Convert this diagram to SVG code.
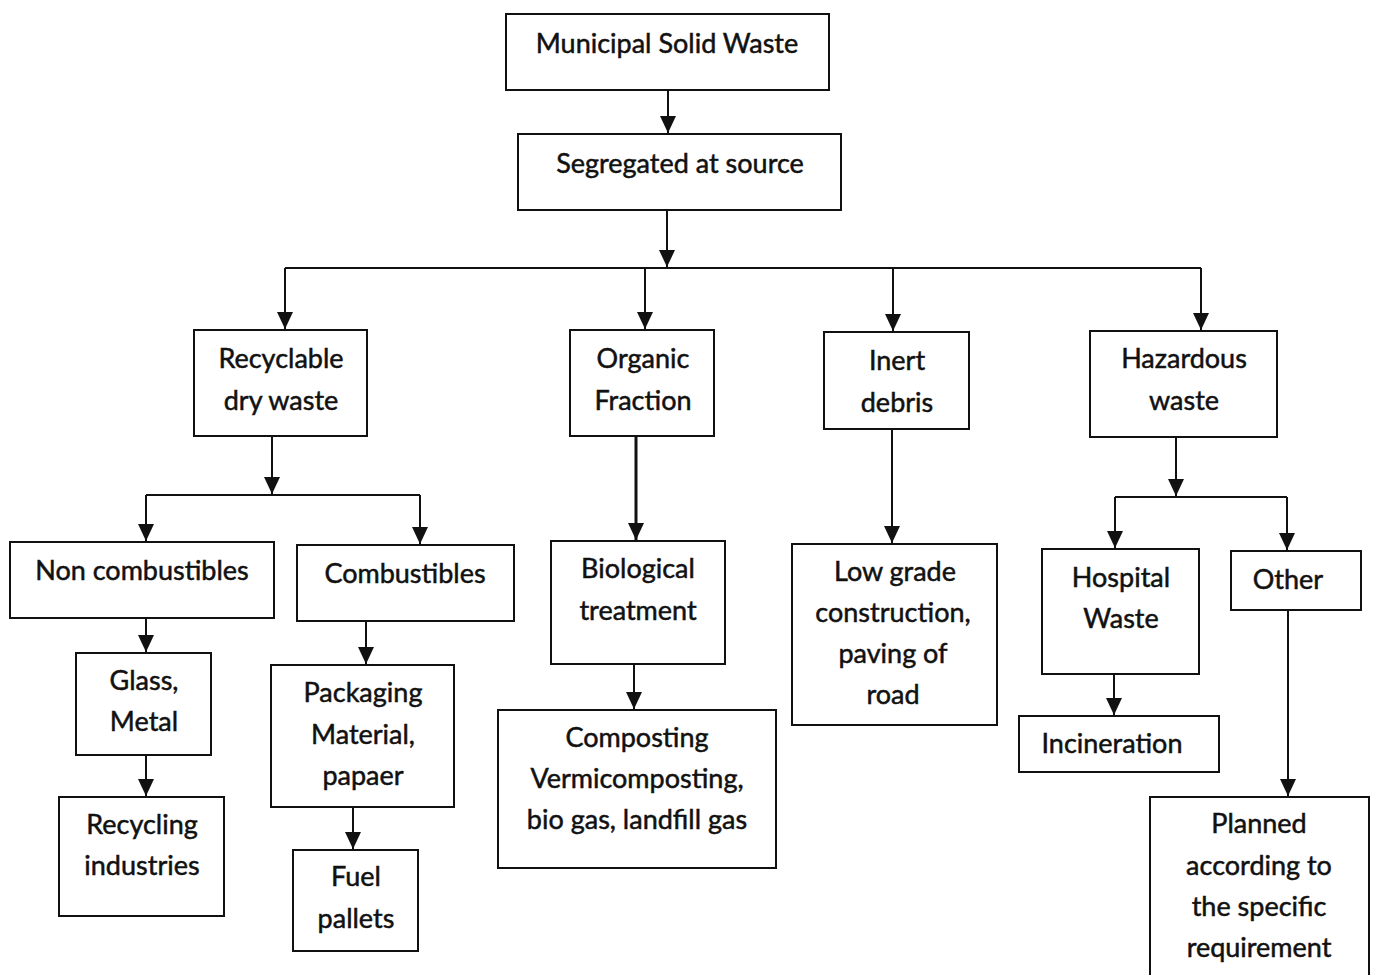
<svg xmlns="http://www.w3.org/2000/svg" width="1373" height="975" viewBox="0 0 1373 975">
<style>
.box{fill:#fff;stroke:#111;stroke-width:2}
text{font-family:Lato,"Liberation Sans",sans-serif;font-size:27px;fill:#111;stroke:#111;stroke-width:0.5;text-anchor:middle}
.c line{stroke:#111;stroke-width:2;fill:none}
</style>
<defs>
<marker id="a" markerUnits="userSpaceOnUse" markerWidth="18" markerHeight="16" refX="17" refY="8" orient="auto" viewBox="0 0 18 16">
<path d="M0,0 L17,8 L0,16 Z" fill="#111"/>
</marker>
</defs>
<rect width="1373" height="975" fill="#fff"/>
<g class="c" id="connectors">
<line x1="668" y1="90" x2="668" y2="133" marker-end="url(#a)"/>
<line x1="667" y1="210" x2="667" y2="267" marker-end="url(#a)"/>
<line x1="285" y1="268" x2="1201" y2="268"/>
<line x1="285" y1="268" x2="285" y2="329" marker-end="url(#a)"/>
<line x1="645" y1="268" x2="645" y2="329" marker-end="url(#a)"/>
<line x1="893" y1="268" x2="893" y2="331" marker-end="url(#a)"/>
<line x1="1201" y1="268" x2="1201" y2="330" marker-end="url(#a)"/>
<line x1="272" y1="436" x2="272" y2="494" marker-end="url(#a)"/>
<line x1="146" y1="495" x2="420" y2="495"/>
<line x1="146" y1="495" x2="146" y2="541" marker-end="url(#a)"/>
<line x1="420" y1="495" x2="420" y2="544" marker-end="url(#a)"/>
<line x1="146" y1="618" x2="146" y2="652" marker-end="url(#a)"/>
<line x1="146" y1="755" x2="146" y2="796" marker-end="url(#a)"/>
<line x1="366" y1="621" x2="366" y2="664" marker-end="url(#a)"/>
<line x1="353" y1="807" x2="353" y2="849" marker-end="url(#a)"/>
<line x1="636" y1="436" x2="636" y2="540" marker-end="url(#a)" style="stroke-width:3"/>
<line x1="634" y1="664" x2="634" y2="709" marker-end="url(#a)"/>
<line x1="892" y1="429" x2="892" y2="543" marker-end="url(#a)"/>
<line x1="1176" y1="437" x2="1176" y2="496" marker-end="url(#a)"/>
<line x1="1115" y1="497" x2="1287" y2="497"/>
<line x1="1115" y1="497" x2="1115" y2="548" marker-end="url(#a)"/>
<line x1="1287" y1="497" x2="1287" y2="550" marker-end="url(#a)"/>
<line x1="1114" y1="674" x2="1114" y2="715" marker-end="url(#a)"/>
<line x1="1288" y1="610" x2="1288" y2="796" marker-end="url(#a)"/>
</g>
<g id="msw"><rect class="box" x="506" y="14" width="323" height="76"/><text x="667" y="53">Municipal Solid Waste</text></g>
<g id="segregated"><rect class="box" x="518" y="134" width="323" height="76"/><text x="680" y="173">Segregated at source</text></g>
<g id="recyclable"><rect class="box" x="194" y="330" width="173" height="106"/><text x="281" y="368">Recyclable</text><text x="281" y="410">dry waste</text></g>
<g id="organic"><rect class="box" x="570" y="330" width="144" height="106"/><text x="643" y="368">Organic</text><text x="643" y="410">Fraction</text></g>
<g id="inert"><rect class="box" x="824" y="332" width="145" height="97"/><text x="897" y="370">Inert</text><text x="897" y="412">debris</text></g>
<g id="hazardous"><rect class="box" x="1090" y="331" width="187" height="106"/><text x="1184" y="368">Hazardous</text><text x="1184" y="410">waste</text></g>
<g id="noncomb"><rect class="box" x="10" y="542" width="264" height="76"/><text x="142" y="580">Non combustibles</text></g>
<g id="comb"><rect class="box" x="297" y="545" width="217" height="76"/><text x="405" y="583">Combustibles</text></g>
<g id="glass"><rect class="box" x="76" y="653" width="135" height="102"/><text x="144" y="690">Glass,</text><text x="144" y="731">Metal</text></g>
<g id="recycling"><rect class="box" x="59" y="797" width="165" height="119"/><text x="142" y="834">Recycling</text><text x="142" y="875">industries</text></g>
<g id="packaging"><rect class="box" x="271" y="665" width="183" height="142"/><text x="363" y="702">Packaging</text><text x="363" y="744">Material,</text><text x="363" y="785">papaer</text></g>
<g id="fuel"><rect class="box" x="293" y="850" width="125" height="101"/><text x="356" y="886">Fuel</text><text x="356" y="928">pallets</text></g>
<g id="biological"><rect class="box" x="551" y="541" width="174" height="123"/><text x="638" y="578">Biological</text><text x="638" y="620">treatment</text></g>
<g id="composting"><rect class="box" x="498" y="710" width="278" height="158"/><text x="637" y="747">Composting</text><text x="637" y="788">Vermicomposting,</text><text x="637" y="829">bio gas, landfill gas</text></g>
<g id="lowgrade"><rect class="box" x="792" y="544" width="205" height="181"/><text x="895" y="581">Low grade</text><text x="893" y="622">construction,</text><text x="893" y="663">paving of</text><text x="893" y="704">road</text></g>
<g id="hospital"><rect class="box" x="1042" y="549" width="157" height="125"/><text x="1121" y="587">Hospital</text><text x="1121" y="628">Waste</text></g>
<g id="other"><rect class="box" x="1231" y="551" width="130" height="59"/><text x="1288" y="589">Other</text></g>
<g id="incineration"><rect class="box" x="1019" y="716" width="200" height="56"/><text x="1112" y="753">Incineration</text></g>
<g id="planned"><rect class="box" x="1150" y="797" width="219" height="185"/><text x="1259" y="833">Planned</text><text x="1259" y="875">according to</text><text x="1259" y="916">the specific</text><text x="1259" y="957">requirement</text></g>
</svg>
